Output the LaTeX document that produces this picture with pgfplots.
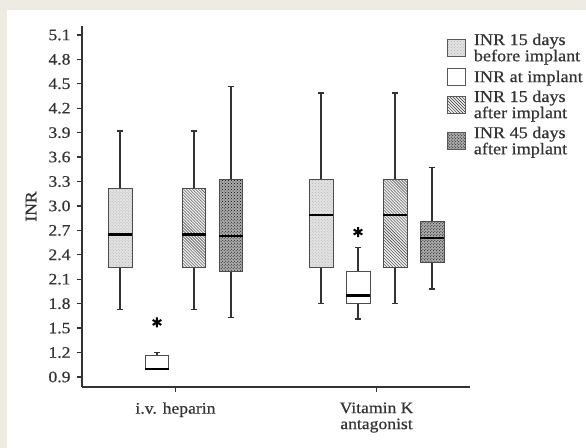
\documentclass[border=0pt]{standalone}
\usepackage{fontspec}
\setmainfont{Liberation Serif}[FakeStretch=1.1, FakeBold=0.5]
\usepackage{pgfplots}
\pgfplotsset{compat=1.18}
\usepgfplotslibrary{statistics}
\usetikzlibrary{patterns}
\definecolor{cream}{HTML}{EEECE2}
\definecolor{ln}{HTML}{333333}
\newcommand\myfont{\fontsize{16bp}{14.5bp}\selectfont}
\tikzset{
  bxA/.style={fill=gray!22, postaction={pattern=crosshatch dots, pattern color=gray!60}},
  bxB/.style={fill=white},
  bxC/.style={fill=gray!12, postaction={pattern=north west lines, pattern color=ln}},
  bxD/.style={fill=gray!65, postaction={pattern=crosshatch dots, pattern color=black}},
}
\pgfplotsset{
  bp/.style={forget plot, boxplot prepared={draw direction=y, box extend=0.119, whisker extend=0.03,
    every median/.style={draw=black, line width=2.4bp},
    every whisker/.style={draw=ln, line width=1.5bp},
    every box/.style={draw=gray!60!black, line width=0.9bp, #1}}},
}
\begin{document}
\begin{tikzpicture}
\fill[cream] (0bp,0bp) rectangle (586bp,448bp);
\fill[white] (7bp,0bp) rectangle (586bp,438bp);
\begin{axis}[
  at={(82bp,61bp)}, anchor=south west,
  scale only axis, width=388bp, height=361bp,
  xmin=0.535, xmax=2.465, ymin=0.777, ymax=5.21,
  axis lines=left, axis line style={-, line width=1.3bp, ln},
  tick align=outside, major tick length=5bp,
  tick style={line width=1.3bp, ln},
  xtick={1,2}, xticklabels={i.v. heparin, {Vitamin K\\antagonist}},
  xticklabel style={align=center, font=\fontsize{16bp}{16bp}\selectfont, text=ln, yshift=-7bp},
  ytick={0.9,1.2,1.5,1.8,2.1,2.4,2.7,3.0,3.3,3.6,3.9,4.2,4.5,4.8,5.1},
  yticklabel style={font=\myfont, text=ln, xshift=-3bp, /pgf/number format/.cd, fixed, fixed zerofill, precision=1, assume math mode=true},
  ylabel={INR},
  every axis y label/.style={at={(axis description cs:-0.1314,0.5)}, rotate=90, anchor=center, font=\myfont, text=ln},
  clip=false,
  legend style={draw=none, fill=none, at={(0.941,0.985)}, anchor=north west, inner sep=0pt, row sep=3bp, font=\fontsize{16.5bp}{14.5bp}\selectfont, text=ln,
    cells={anchor=west, align=left}},
  legend image code/.code={\draw[#1, draw=gray!70!black, line width=0.8bp] (0bp,-8bp) rectangle (18bp,9bp); \path (24bp,0bp);},
]
\addlegendimage{bxA}\addlegendentry{INR 15 days\\before implant}
\addlegendimage{bxB}\addlegendentry{INR at implant}
\addlegendimage{bxC}\addlegendentry{INR 15 days\\after implant}
\addlegendimage{bxD}\addlegendentry{INR 45 days\\after implant}
% i.v. heparin
\addplot[bp={bxA}, boxplot prepared={draw position=0.724, lower whisker=1.73, lower quartile=2.25, median=2.65, upper quartile=3.21, upper whisker=3.92}] coordinates {};
\addplot[bp={bxB}, boxplot prepared={draw position=0.908, lower whisker=1.0, lower quartile=1.0, median=1.0, upper quartile=1.16, upper whisker=1.20}] coordinates {};
\addplot[bp={bxC}, boxplot prepared={draw position=1.092, lower whisker=1.73, lower quartile=2.25, median=2.65, upper quartile=3.21, upper whisker=3.92}] coordinates {};
\addplot[bp={bxD}, boxplot prepared={draw position=1.276, lower whisker=1.63, lower quartile=2.19, median=2.63, upper quartile=3.32, upper whisker=4.47}] coordinates {};
% Vitamin K antagonist
\addplot[bp={bxA}, boxplot prepared={draw position=1.724, lower whisker=1.80, lower quartile=2.24, median=2.89, upper quartile=3.32, upper whisker=4.39}] coordinates {};
\addplot[bp={bxB}, boxplot prepared={draw position=1.908, lower whisker=1.61, lower quartile=1.80, median=1.90, upper quartile=2.19, upper whisker=2.49}] coordinates {};
\addplot[bp={bxC}, boxplot prepared={draw position=2.092, lower whisker=1.80, lower quartile=2.24, median=2.89, upper quartile=3.32, upper whisker=4.39}] coordinates {};
\addplot[bp={bxD}, boxplot prepared={draw position=2.276, lower whisker=1.98, lower quartile=2.31, median=2.61, upper quartile=2.81, upper whisker=3.47}] coordinates {};
% significance asterisks
\addplot[forget plot, only marks, mark=asterisk, mark size=5bp, mark options={line width=2bp, draw=black}] coordinates {(0.908,1.57) (1.908,2.68)};
\end{axis}
\end{tikzpicture}
\end{document}
